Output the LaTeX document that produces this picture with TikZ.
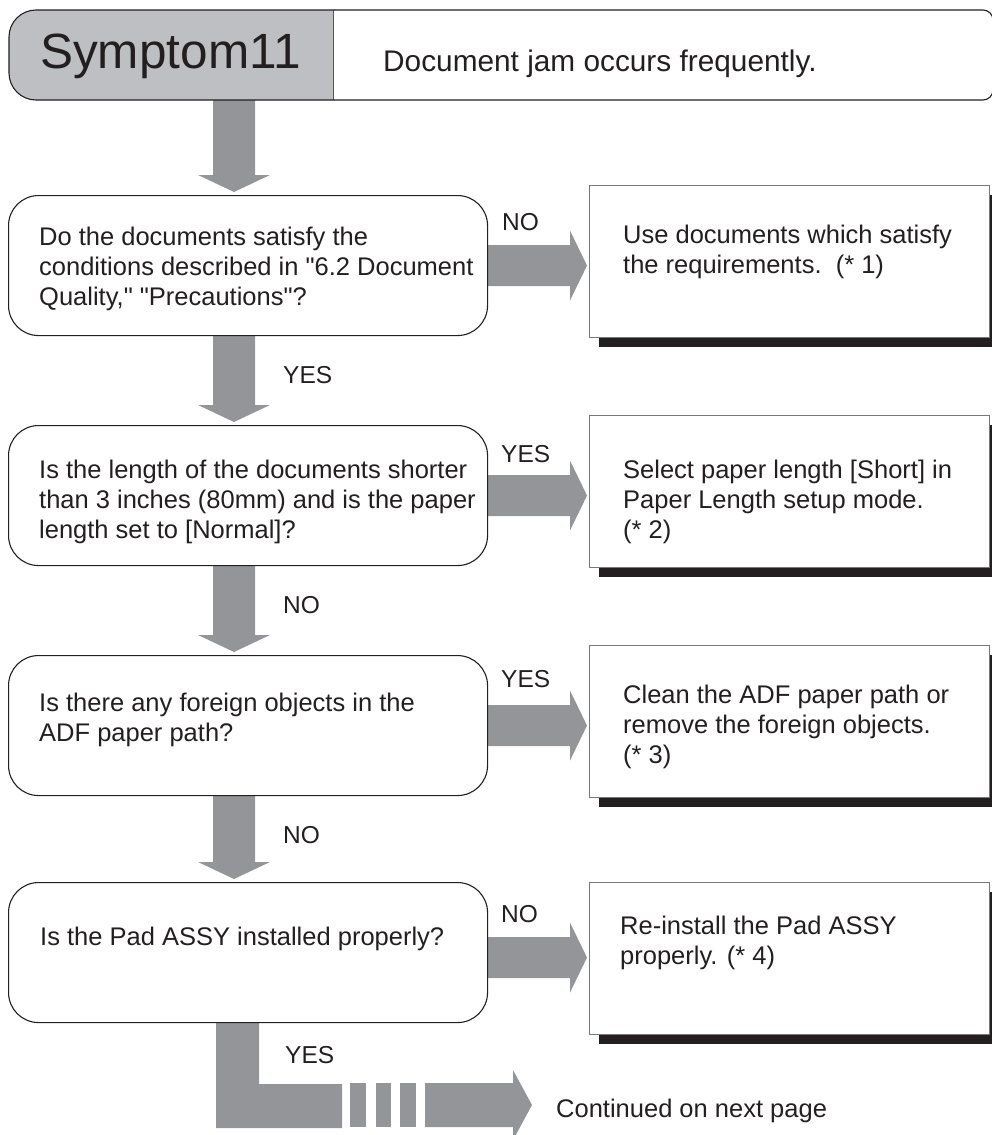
\documentclass[tikz,border=0pt]{standalone}
\usepackage{fontspec}
\setmainfont{Liberation Sans}
\newfontfamily\arial{Liberation Sans}
\usetikzlibrary{calc,shadows,backgrounds}
\definecolor{arrgray}{HTML}{939598}
\definecolor{hdrgray}{HTML}{BEBFC3}
\definecolor{ink}{HTML}{231F20}
\definecolor{edge}{HTML}{77787B}
\newcommand\ml[1]{\begin{tabular}[t]{@{}l@{}}#1\end{tabular}}
\newcommand\bodyfont{\arial\fontsize{25.5}{30}\selectfont}
\newcommand\lblfont{\arial\fontsize{24.5}{28}\selectfont}
\newcommand\fatdown[2]{\fill[arr] ($(#1)+(-21,0)$) -- ($(#1)+(21,0)$) -- ($(#2)+(21,-17)$) -- ($(#2)+(36,-17)$) -- (#2) -- ($(#2)+(-36,-17)$) -- ($(#2)+(-21,-17)$) -- cycle;}
\newcommand\fatright[2]{\fill[arr] ($(#1)+(0,-20.5)$) -- ($(#2)+(-17,-20.5)$) -- ($(#2)+(-17,-35)$) -- (#2) -- ($(#2)+(-17,35)$) -- ($(#2)+(-17,20.5)$) -- ($(#1)+(0,20.5)$) -- cycle;}
\begin{document}
\begin{tikzpicture}[x=1pt,y=-1pt,
  arr/.style={fill=arrgray},
  dbox/.style={draw=ink, line width=1.1, fill=white, rounded corners=30, minimum width=479, minimum height=140, inner sep=0, anchor=north west},
  abox/.style={draw=edge, line width=1, fill=white, minimum width=400, minimum height=152, inner sep=0, anchor=north west,
    drop shadow={shadow xshift=9pt, shadow yshift=-9pt, opacity=1, fill=ink}},
  body/.style={font=\bodyfont, inner sep=0, anchor=base west, text=ink},
  lbl/.style={font=\lblfont, inner sep=0, anchor=base west, text=ink}]
\useasboundingbox (0,0) rectangle (991,1135);

% header
\draw[ink, line width=1.1, fill=hdrgray] (334,10) -- (36,10) .. controls (21.1,10) and (9,22.1) .. (9,37) -- (9,73) .. controls (9,87.9) and (21.1,100) .. (36,100) -- (334,100) -- cycle;
\draw[ink, line width=1.1, fill=white] (334,10) -- (983,10) .. controls (988.5,10) and (993,14.5) .. (993,20) -- (993,90) .. controls (993,95.5) and (988.5,100) .. (983,100) -- (334,100);
\node[inner sep=0, anchor=base west, text=ink, font={\arial\fontsize{49.5}{56}\selectfont}] (sym) at (40,68) {Symptom11};
\node[inner sep=0, anchor=base west, text=ink, font={\arial\fontsize{29.8}{34}\selectfont}] (desc) at (383,71) {Document jam occurs frequently.};
\coordinate (h0) at (234,100);

% decision boxes
\node[dbox] (q1) at (8,195) {};
\node[dbox] (q2) at (8,425) {};
\node[dbox] (q3) at (8,655) {};
\node[dbox] (q4) at (8,882) {};

% action boxes
\node[abox] (a1) at (589,185) {};
\node[abox] (a2) at (589,415) {};
\node[abox] (a3) at (589,645) {};
\node[abox] (a4) at (589,882) {};

% texts
\node[body] (q1t) at (39,245) {\ml{Do the documents satisfy the\\conditions described in "6.2 Document\\Quality," "Precautions"?}};
\node[body] (q2t) at (39,478) {\ml{Is the length of the documents shorter\\than 3 inches (80mm) and is the paper\\length set to [Normal]?}};
\node[body] (q3t) at (39,711) {\ml{Is there any foreign objects in the\\ADF paper path?}};
\node[body] (q4t) at (40,945) {Is the Pad ASSY installed properly?};

\node[body] (a1t) at (623,243) {\ml{Use documents which satisfy\\the requirements.\ \ (* 1)}};
\node[body] (a2t) at (623,478) {\ml{Select paper length [Short] in\\Paper Length setup mode.\\(* 2)}};
\node[body] (a3t) at (623,703) {\ml{Clean the ADF paper path or\\remove the foreign objects.\\(* 3)}};
\node[body] (a4t) at (620,934) {\ml{Re-install the Pad ASSY\\properly. (* 4)}};

% labels
\node[lbl] (l1) at (283,383) {YES};
\node[lbl] (l2) at (283,613) {NO};
\node[lbl] (l3) at (283,843) {NO};
\node[lbl] (l4) at (285,1063) {YES};
\node[lbl] (r1) at (502,230) {NO};
\node[lbl] (r2) at (501,462) {YES};
\node[lbl] (r3) at (501,687) {YES};
\node[lbl] (r4) at (501,922) {NO};

\node[body] (cont) at (556,1117) {Continued on next page};

% connectors
\begin{scope}[on background layer]
\coordinate (t0) at ($(q1.north west)+(226,-3)$);
\fatdown{h0}{t0}
\coordinate (d1) at ($(q1.south west)+(226,0)$);
\coordinate (t1) at ($(q2.north west)+(226,-3)$);
\fatdown{d1}{t1}
\coordinate (d2) at ($(q2.south west)+(226,0)$);
\coordinate (t2) at ($(q3.north west)+(226,-3)$);
\fatdown{d2}{t2}
\coordinate (d3) at ($(q3.south west)+(226,0)$);
\coordinate (t3) at ($(q4.north west)+(226,-3)$);
\fatdown{d3}{t3}

\coordinate (s1) at (q1.east);
\coordinate (e1) at ($(q1.east -| a1.west)+(-2,0)$);
\fatright{s1}{e1}
\coordinate (s2) at (q2.east);
\coordinate (e2) at ($(q2.east -| a2.west)+(-2,0)$);
\fatright{s2}{e2}
\coordinate (s3) at (q3.east);
\coordinate (e3) at ($(q3.east -| a3.west)+(-2,0)$);
\fatright{s3}{e3}
\coordinate (s4) at ($(q4.east)+(0,5)$);
\coordinate (e4) at ($(q4.east -| a4.west)+(-2,5)$);
\fatright{s4}{e4}

% bottom L-shaped continuation arrow
\coordinate (b0) at ($(q4.south west)+(208,0)$);
\fill[arr] (b0) -- ++(43,0) -- ++(0,61) -- ++(83,0) -- ++(0,44) -- ++(-126,0) -- cycle;
\fill[arr] (350,1083) rectangle (366,1127);
\fill[arr] (376,1083) rectangle (391,1127);
\fill[arr] (400,1083) rectangle (416,1127);
\coordinate (bt) at ($(cont.base west)+(-24,-12)$);
\fill[arr] (425,1083) -- (513,1083) -- (513,1070) -- (bt) -- (513,1140) -- (513,1127) -- (425,1127) -- cycle;
\end{scope}
\end{tikzpicture}
\end{document}
